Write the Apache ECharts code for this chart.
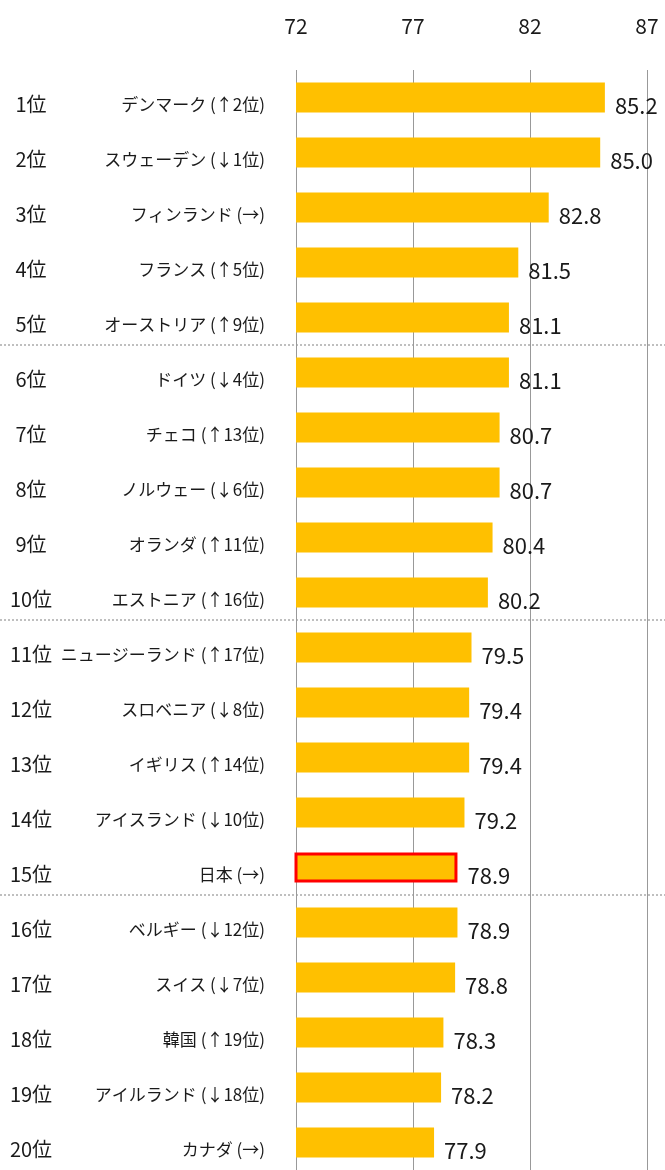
<!DOCTYPE html>
<html>
<head>
<meta charset="utf-8">
<script src="https://cdn.jsdelivr.net/npm/echarts@6/dist/echarts.min.js"></script>
<style>
  html, body { margin: 0; padding: 0; background: #fff; }
  #chart { width: 665px; height: 1170px; }
</style>
</head>
<body>
<div id="chart"></div>
<script>
const ranks = ["1位", "2位", "3位", "4位", "5位", "6位", "7位", "8位", "9位", "10位",
  "11位", "12位", "13位", "14位", "15位", "16位", "17位", "18位", "19位", "20位"];
const countries = ["デンマーク", "スウェーデン", "フィンランド", "フランス", "オーストリア",
  "ドイツ", "チェコ", "ノルウェー", "オランダ", "エストニア",
  "ニュージーランド", "スロベニア", "イギリス", "アイスランド", "日本",
  "ベルギー", "スイス", "韓国", "アイルランド", "カナダ"];
const changes = ["↑2位", "↓1位", "→", "↑5位", "↑9位",
  "↓4位", "↑13位", "↓6位", "↑11位", "↑16位",
  "↑17位", "↓8位", "↑14位", "↓10位", "→",
  "↓12位", "↓7位", "↑19位", "↓18位", "→"];
const scores = [85.2, 85.0, 82.8, 81.5, 81.1, 81.1, 80.7, 80.7, 80.4, 80.2,
  79.5, 79.4, 79.4, 79.2, 78.9, 78.9, 78.8, 78.3, 78.2, 77.9];
const xTicks = [72, 77, 82, 87];
const highlight = "日本";
const groupSize = 5; // dashed separator every 5 ranks

const FONT = "'Noto Sans CJK JP', 'Noto Sans', sans-serif";
const categories = countries.map((c, i) => `${ranks[i]}|${c} (${changes[i]})`);

const chart = echarts.init(document.getElementById("chart"));

chart.setOption({
  backgroundColor: "#ffffff",
  animation: false,
  textStyle: { fontFamily: FONT },
  grid: [
    { left: 296, right: 18, top: 70, bottom: -3 },
    { left: 0, right: 0, top: 70, bottom: -3 },
  ],
  xAxis: [
    {
      type: "value",
      position: "top",
      min: xTicks[0],
      max: xTicks[xTicks.length - 1],
      interval: xTicks[1] - xTicks[0],
      axisLine: { show: false },
      axisTick: { show: false },
      axisLabel: { color: "#1a1a1a", fontSize: 21, margin: 33, fontFamily: FONT },
      splitLine: { lineStyle: { color: "#999", width: 1 } },
    },
    { gridIndex: 1, type: "value", min: 0, max: 1, show: false },
  ],
  yAxis: [
    {
      type: "category",
      inverse: true,
      data: categories,
      axisLine: { show: false },
      axisTick: { show: false },
      axisLabel: {
        margin: 31,
        padding: [14, 0, 0, 0],
        formatter: (v) => {
          const [r, n] = v.split("|");
          return `{r|${r}}{n|${n}}`;
        },
        rich: {
          r: { width: 42, align: "center", fontSize: 20, color: "#1a1a1a", fontFamily: FONT },
          n: { width: 213, align: "right", fontSize: 17, color: "#1a1a1a", fontFamily: FONT },
        },
      },
    },
    {
      // full-width dashed separators between rank groups
      gridIndex: 1,
      type: "value",
      inverse: true,
      min: 0,
      max: ranks.length,
      interval: groupSize,
      axisLine: { show: false },
      axisTick: { show: false },
      axisLabel: { show: false },
      splitLine: {
        show: true,
        showMinLine: false,
        showMaxLine: false,
        lineStyle: { color: "#aaa", type: [2, 2], width: 1.5 },
      },
    },
  ],
  series: [
    {
      type: "bar",
      barWidth: 30,
      data: scores.map((v, i) =>
        countries[i] === highlight
          ? { value: v, itemStyle: { color: "#FFC000", borderColor: "#FF0000", borderWidth: 3 } }
          : v
      ),
      itemStyle: { color: "#FFC000" },
      label: {
        show: true,
        position: "right",
        distance: 10,
        offset: [0, 8],
        color: "#1a1a1a",
        fontSize: 22,
        fontFamily: FONT,
        formatter: (p) => p.value.toFixed(1),
      },
    },
  ],
});
</script>
</body>
</html>
